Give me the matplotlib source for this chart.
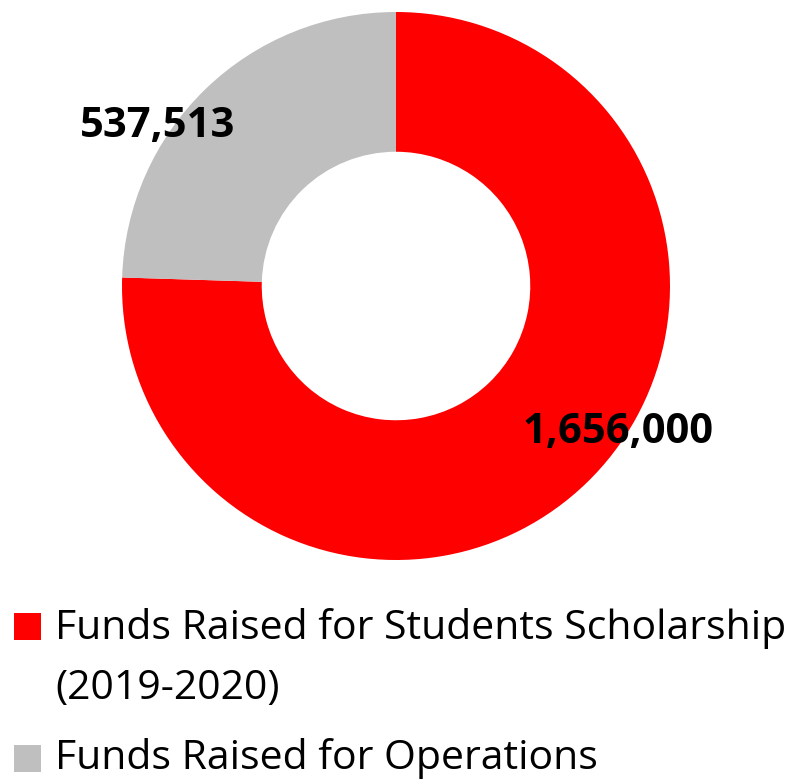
import matplotlib.pyplot as plt
from matplotlib.patches import Rectangle

labels = ["Funds Raised for Students Scholarship\n(2019-2020)",
          "Funds Raised for Operations"]
values = [1656000, 537513]
colors = ["#FF0000", "#BFBFBF"]
value_text = ["1,656,000", "537,513"]

W, H = 798, 779
plt.rcParams["font.family"] = ["Open Sans", "DejaVu Sans"]

fig = plt.figure(figsize=(W / 100, H / 100), dpi=100)
fig.patch.set_facecolor("white")

# donut: centre (396, 286) px from top, outer radius 274 px
cx, cy, R = 396, 286, 274
ax = fig.add_axes([(cx - R) / W, (H - cy - R) / H, 2 * R / W, 2 * R / H])
ax.pie(values, colors=colors, startangle=90, counterclock=False,
       radius=1.0, wedgeprops=dict(width=0.51, linewidth=0))
ax.set_xlim(-1, 1)
ax.set_ylim(-1, 1)
ax.set_aspect("equal")
ax.axis("off")

# data labels (positions in px, converted to data units)
label_pos = [(618, 443), (158, 137)]
for txt, (px, py) in zip(value_text, label_pos):
    ax.text((px - cx) / R, (cy - py) / R, txt, ha="center", va="baseline",
            fontsize=30, fontweight="bold", color="black")

# legend drawn by hand to keep the Excel-like layout
squares = [(14, 613), (14, 745)]
baselines = [[639, 699], [769]]
for col, (sx, sy), lab, bls in zip(colors, squares, labels, baselines):
    fig.patches.append(Rectangle((sx / W, (H - sy - 27) / H), 27 / W, 27 / H,
                                 transform=fig.transFigure, facecolor=col,
                                 edgecolor="none"))
    for line, bl in zip(lab.split("\n"), bls):
        fig.text(55 / W, (H - bl) / H, line, ha="left", va="baseline",
                 fontsize=29.5, color="black")

fig.savefig("out.png", dpi=100, facecolor="white")
